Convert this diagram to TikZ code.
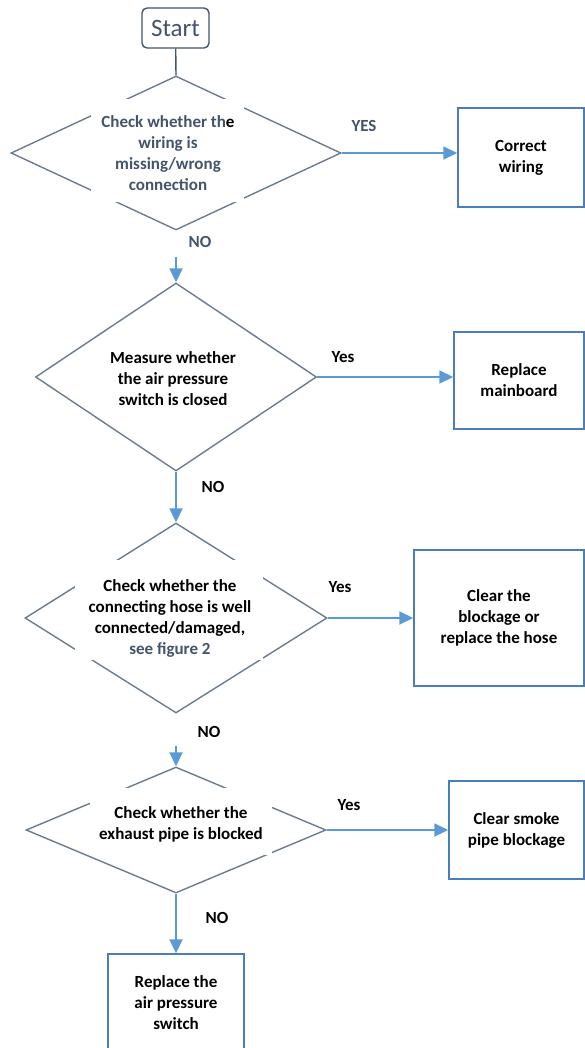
\documentclass[tikz,border=0pt]{standalone}
\usepackage{fontspec}
\setmainfont{Carlito}
\usetikzlibrary{shapes.geometric,arrows.meta}
\definecolor{textblue}{HTML}{44546A}
\definecolor{diagray}{HTML}{6A7C8E}
\definecolor{arrblue}{HTML}{5B9BD5}
\definecolor{boxblue}{HTML}{4A7EBB}
\tikzset{
  dia/.style={shape=diamond, draw=diagray, line width=1.4pt, inner sep=0pt},
  txt/.style={font=\bfseries\fontsize{17}{21}\selectfont, align=center, inner sep=0pt},
  lbl/.style={font=\bfseries\fontsize{17}{21}\selectfont, inner sep=0pt},
  boxnode/.style={draw=boxblue, line width=1.4pt, font=\bfseries\fontsize{17}{21}\selectfont, align=center, inner sep=0pt},
  arr/.style={draw=arrblue, line width=1.8pt, -{Triangle[length=14pt,width=13pt]}},
  gline/.style={draw=textblue, line width=1.4pt}
}
\begin{document}
\begin{tikzpicture}[x=1pt,y=-1pt]
\useasboundingbox (0,0) rectangle (585,1048);
% start
\node[draw=textblue, line width=1.4pt, rounded corners=5pt, minimum width=67pt, minimum height=40pt,
  inner sep=0pt, text=textblue, font=\fontsize{25}{25}\selectfont] (start) at (175.5,28) {Start};
% diamonds
\node[dia, minimum width=330pt, minimum height=154pt] (d1) at (176,153) {};
\node[dia, minimum width=281pt, minimum height=188pt] (d2) at (176,377) {};
\node[dia, minimum width=302pt, minimum height=190pt] (d3) at (176,618) {};
\node[dia, minimum width=300pt, minimum height=126pt] (d4) at (176,830) {};
% white masks behind texts
\fill[white] (91,99) rectangle (244,202);
\fill[white] (75,560) rectangle (263,660);
\fill[white] (90,788) rectangle (272,855);
% diamond texts
\node[txt, text=textblue] (t1) at (168,153.5) {Check whether th{\color{black}e}\\wiring is\\missing/wrong\\connection};
\node[txt] (t2) at (173,379) {Measure whether\\the air pressure\\switch is closed};
\node[txt] (t3) at (170,618.5) {Check whether the\\connecting hose is well\\connected/damaged,\\{\color{textblue}see figure 2}};
\node[txt] (t4) at (181,824.5) {Check whether the\\exhaust pipe is blocked};
% boxes
\node[boxnode, minimum width=126pt, minimum height=99pt] (b1) at (521,157.5) {Correct\\wiring};
\node[boxnode, minimum width=130pt, minimum height=97pt] (b2) at (519,380.5) {Replace\\mainboard};
\node[boxnode, minimum width=170pt, minimum height=136pt] (b3) at (499,618) {Clear the\\blockage or\\replace the hose};
\node[boxnode, minimum width=135pt, minimum height=98pt] (b4) at (516.5,830) {Clear smoke\\pipe blockage};
\node[boxnode, minimum width=136pt, minimum height=98pt] (b5) at (176,1003) {Replace the\\air pressure\\switch};
% labels
\node[lbl, text=textblue] (l1) at (364,126) {YES};
\node[lbl, text=textblue] (l2) at (200,242) {NO};
\node[lbl] (l3) at (343,357) {Yes};
\node[lbl] (l4) at (213,487) {NO};
\node[lbl] (l5) at (340,587) {Yes};
\node[lbl] (l6) at (209,732) {NO};
\node[lbl] (l7) at (349,805) {Yes};
\node[lbl] (l8) at (217,918) {NO};
% connectors
\draw[gline] (start) -- (d1.north);
\draw[arr] (d1.east) -- (d1.east -| b1.west);
\draw[arr] ([yshift=-26pt]d1.south) -- (d2.north);
\draw[arr] (d2.east) -- (d2.east -| b2.west);
\draw[arr] (d2.south) -- (d3.north);
\draw[arr] (d3.east) -- (d3.east -| b3.west);
\draw[arr] ([yshift=-32pt]d3.south) -- (d4.north);
\draw[arr] (d4.east) -- (d4.east -| b4.west);
\draw[arr] (d4.south) -- (b5.north);
\end{tikzpicture}
\end{document}
